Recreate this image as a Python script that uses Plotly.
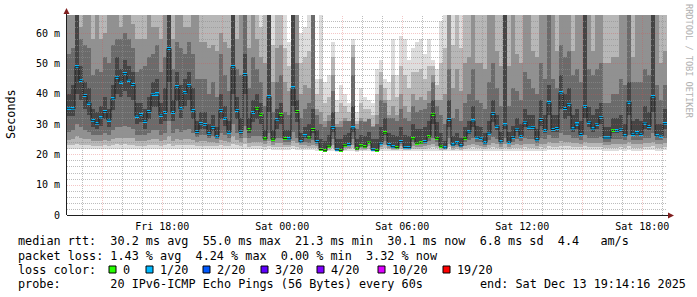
import plotly.graph_objects as go
import pandas as pd

# ---------------- data ----------------
end_time = "2025-12-13 19:14:16"
span_hours = 30
step_minutes = 12

median_ms = [
    35.2, 35.0, 48.9, 44.4, 39.4, 36.9, 31.1, 30.1, 32.0, 34.1,
    31.3, 38.3, 45.4, 43.8, 46.6, 44.5, 43.0, 32.6, 33.1, 30.9,
    34.1, 39.8, 39.9, 32.9, 33.8, 54.9, 33.8, 42.3, 35.0, 40.3,
    42.6, 34.4, 27.5, 30.1, 29.8, 26.8, 28.9, 25.8, 34.5, 31.9,
    27.3, 48.9, 34.5, 27.6, 46.3, 28.1, 33.8, 35.2, 33.2, 25.1,
    39.0, 25.0, 31.4, 33.1, 25.2, 25.1, 41.9, 34.1, 24.1, 26.1,
    25.4, 28.2, 24.2, 21.6, 21.2, 22.7, 28.9, 21.5, 21.3, 23.0,
    23.2, 28.7, 21.8, 22.8, 22.5, 24.0, 21.5, 21.3, 23.7, 27.1,
    23.2, 22.5, 22.2, 24.2, 22.3, 22.2, 25.1, 23.7, 23.8, 24.2,
    25.8, 33.2, 25.3, 22.7, 22.1, 31.5, 23.1, 23.8, 22.8, 25.3,
    27.4, 31.0, 25.7, 25.3, 23.8, 27.0, 33.5, 29.3, 24.1, 29.7,
    24.0, 25.6, 28.3, 25.9, 30.6, 29.0, 28.9, 24.8, 31.5, 27.8,
    37.0, 28.2, 28.5, 40.3, 35.1, 36.5, 28.4, 30.0, 26.5, 35.8,
    30.6, 28.4, 29.9, 32.2, 25.4, 25.4, 27.9, 27.8, 28.3, 26.1,
    37.2, 26.6, 27.1, 26.6, 30.3, 29.2, 39.0, 26.1, 26.0, 30.1,
]

loss_of_20 = [
    1, 1, 1, 1, 1, 1, 1, 1, 1, 1,
    1, 1, 1, 1, 1, 1, 1, 1, 1, 1,
    1, 1, 1, 1, 1, 1, 1, 1, 1, 1,
    1, 1, 1, 1, 1, 1, 1, 1, 1, 1,
    1, 1, 1, 1, 1, 0, 1, 0, 0, 0,
    1, 0, 1, 0, 0, 1, 1, 0, 1, 1,
    0, 0, 1, 0, 0, 0, 1, 1, 0, 0,
    1, 1, 0, 0, 0, 0, 1, 0, 1, 0,
    1, 1, 0, 1, 1, 1, 0, 0, 0, 1,
    0, 0, 0, 0, 1, 1, 1, 1, 1, 0,
    1, 1, 1, 1, 1, 1, 1, 1, 1, 1,
    1, 1, 1, 1, 1, 1, 1, 1, 1, 1,
    1, 1, 1, 1, 1, 1, 1, 1, 1, 1,
    1, 1, 1, 1, 1, 1, 0, 1, 1, 1,
    1, 1, 1, 1, 1, 1, 1, 1, 1, 1,
]

# sorted ping values (ms) at selected ranks out of 20, per column
ping01 = [
    21.8, 21.8, 21.8, 21.8, 21.8, 21.8, 21.8, 21.8, 21.8, 21.8,
    21.8, 21.8, 21.8, 21.8, 21.8, 21.8, 21.8, 21.8, 21.8, 21.8,
    21.8, 21.8, 21.8, 21.8, 21.8, 21.8, 21.8, 21.8, 21.8, 21.8,
    21.8, 21.8, 21.8, 21.8, 21.8, 21.8, 21.8, 21.8, 21.8, 21.8,
    21.8, 21.8, 21.8, 21.8, 21.8, 21.6, 21.6, 21.6, 21.6, 21.5,
    21.6, 21.5, 21.5, 21.5, 21.5, 21.5, 21.6, 21.5, 21.4, 21.4,
    21.3, 21.3, 21.2, 21.0, 20.9, 21.0, 21.2, 20.9, 20.9, 21.0,
    21.0, 21.2, 20.9, 21.0, 21.0, 21.0, 20.9, 20.9, 21.0, 21.2,
    21.0, 21.0, 21.0, 21.0, 21.0, 21.0, 21.0, 21.0, 21.0, 21.0,
    21.1, 21.2, 21.1, 21.0, 21.0, 21.2, 21.0, 21.0, 21.0, 21.0,
    21.1, 21.2, 21.1, 21.1, 21.0, 21.1, 21.2, 21.1, 21.0, 21.1,
    21.0, 21.1, 21.1, 21.1, 21.2, 21.1, 21.1, 21.0, 21.2, 21.1,
    21.4, 21.3, 21.3, 21.4, 21.4, 21.4, 21.3, 21.3, 21.3, 21.4,
    21.3, 21.3, 21.3, 21.3, 21.2, 21.2, 21.2, 21.2, 21.3, 21.2,
    21.4, 21.2, 21.2, 21.2, 21.3, 21.3, 21.4, 21.2, 21.2, 21.3,
]
ping03 = [
    23.0, 23.2, 23.5, 23.2, 23.0, 23.0, 22.8, 22.8, 22.8, 23.0,
    22.8, 23.0, 23.5, 23.2, 23.5, 23.2, 23.2, 22.8, 22.8, 22.8,
    23.0, 23.0, 23.0, 22.8, 23.0, 23.5, 22.8, 23.2, 23.0, 23.0,
    23.2, 23.0, 22.8, 22.8, 22.8, 22.6, 22.8, 22.6, 23.0, 22.8,
    22.6, 23.5, 23.0, 22.6, 23.5, 22.5, 22.6, 22.6, 22.6, 22.3,
    22.8, 22.3, 22.5, 22.5, 22.3, 22.3, 22.8, 22.5, 22.2, 22.2,
    22.0, 22.2, 22.0, 21.2, 21.0, 21.5, 22.2, 21.1, 21.0, 21.5,
    21.6, 22.2, 21.2, 21.5, 21.4, 21.8, 21.1, 21.0, 21.8, 22.0,
    21.6, 21.4, 21.3, 21.8, 21.4, 21.3, 21.9, 21.7, 21.7, 21.8,
    22.0, 22.3, 22.0, 21.5, 21.3, 22.3, 21.5, 21.7, 21.5, 21.9,
    22.1, 22.3, 22.0, 22.0, 21.7, 22.1, 22.3, 22.2, 21.8, 22.2,
    21.8, 22.0, 22.1, 22.0, 22.3, 22.2, 22.2, 21.9, 22.3, 22.1,
    22.6, 22.4, 22.4, 22.7, 22.6, 22.6, 22.4, 22.4, 22.3, 22.6,
    22.4, 22.4, 22.4, 22.5, 22.1, 22.1, 22.2, 22.2, 22.3, 22.2,
    22.6, 22.2, 22.2, 22.2, 22.4, 22.4, 22.6, 22.2, 22.2, 22.4,
]
ping05 = [
    24.8, 25.0, 26.0, 25.5, 25.0, 25.0, 24.5, 24.5, 24.5, 24.8,
    24.5, 25.0, 25.5, 25.5, 25.5, 25.5, 25.5, 24.5, 24.5, 24.5,
    24.8, 25.0, 25.0, 24.5, 24.8, 26.0, 24.5, 25.2, 24.8, 25.0,
    25.2, 24.8, 24.2, 24.5, 24.5, 24.0, 24.2, 23.8, 24.8, 24.5,
    24.0, 26.0, 24.8, 24.0, 25.5, 23.8, 24.0, 24.0, 24.0, 23.3,
    24.5, 23.2, 23.8, 23.8, 23.2, 23.2, 24.5, 23.8, 23.0, 23.0,
    22.8, 23.2, 22.8, 21.4, 21.1, 22.0, 23.2, 21.3, 21.15, 22.0,
    22.2, 23.2, 21.5, 22.0, 21.9, 22.6, 21.3, 21.15, 22.5, 23.0,
    22.2, 21.9, 21.7, 22.6, 21.8, 21.7, 22.8, 22.5, 22.5, 22.6,
    23.0, 23.5, 22.9, 22.0, 21.7, 23.5, 22.1, 22.4, 22.0, 22.8,
    23.2, 23.5, 23.0, 22.9, 22.4, 23.2, 23.6, 23.4, 22.5, 23.4,
    22.5, 23.0, 23.3, 23.0, 23.5, 23.4, 23.4, 22.8, 23.5, 23.3,
    24.0, 23.6, 23.6, 24.3, 24.0, 24.0, 23.6, 23.7, 23.4, 24.0,
    23.7, 23.6, 23.7, 23.8, 23.1, 23.1, 23.4, 23.4, 23.5, 23.3,
    24.1, 23.3, 23.4, 23.3, 23.7, 23.6, 24.2, 23.3, 23.3, 23.7,
]
ping07 = [
    27.5, 28.0, 30.0, 29.0, 28.0, 27.5, 26.5, 26.5, 26.5, 27.0,
    26.5, 28.0, 29.0, 29.0, 29.5, 29.0, 28.5, 26.5, 26.5, 26.5,
    27.0, 28.0, 28.0, 26.5, 27.0, 31.0, 27.0, 28.5, 27.5, 28.0,
    28.5, 27.0, 25.8, 26.5, 26.5, 25.5, 26.0, 25.0, 27.0, 26.5,
    25.5, 30.0, 27.0, 25.5, 29.5, 25.5, 26.0, 26.0, 26.0, 24.3,
    27.0, 24.2, 25.5, 25.5, 24.2, 24.2, 27.5, 25.5, 23.6, 24.0,
    23.8, 24.8, 23.5, 21.5, 21.15, 22.4, 25.0, 21.4, 21.25, 22.6,
    22.8, 25.0, 21.7, 22.5, 22.3, 23.4, 21.4, 21.25, 23.2, 24.5,
    22.8, 22.3, 22.0, 23.5, 22.1, 22.0, 24.0, 23.2, 23.3, 23.5,
    24.3, 25.5, 24.0, 22.4, 21.9, 25.5, 22.7, 23.2, 22.5, 24.0,
    24.8, 25.5, 24.2, 24.0, 23.2, 24.8, 25.8, 25.2, 23.4, 25.3,
    23.4, 24.2, 25.0, 24.3, 25.5, 25.2, 25.2, 23.8, 25.5, 25.0,
    26.5, 25.3, 25.3, 27.0, 26.3, 26.5, 25.3, 25.5, 24.7, 26.5,
    25.5, 25.3, 25.5, 25.8, 24.2, 24.2, 25.0, 25.0, 25.2, 24.6,
    26.5, 24.7, 24.8, 24.7, 25.5, 25.4, 27.0, 24.6, 24.6, 25.5,
]
ping09 = [
    32.5, 32.5, 40.0, 38.0, 35.0, 33.0, 29.0, 28.5, 29.5, 31.5,
    29.0, 34.5, 40.0, 39.0, 41.0, 39.0, 38.0, 30.0, 30.5, 28.5,
    31.5, 35.5, 35.5, 30.0, 31.0, 44.0, 31.0, 37.5, 32.0, 36.0,
    38.0, 31.5, 26.8, 28.5, 28.5, 26.2, 27.8, 25.4, 31.5, 29.5,
    26.6, 40.0, 31.5, 26.8, 40.0, 27.2, 30.5, 31.5, 30.0, 24.8,
    34.0, 24.7, 28.5, 30.0, 24.9, 24.8, 36.0, 30.5, 23.9, 25.5,
    25.0, 27.0, 23.9, 21.55, 21.18, 22.6, 27.5, 21.45, 21.28, 22.9,
    23.1, 27.5, 21.75, 22.7, 22.4, 23.8, 21.45, 21.28, 23.6, 26.5,
    23.1, 22.4, 22.1, 24.0, 22.2, 22.1, 24.8, 23.6, 23.7, 24.0,
    25.5, 30.0, 25.0, 22.6, 22.0, 29.0, 23.0, 23.6, 22.7, 25.0,
    26.8, 29.0, 25.4, 25.0, 23.6, 26.5, 30.5, 28.0, 23.9, 28.5,
    23.8, 25.3, 27.5, 25.6, 29.0, 28.0, 28.0, 24.5, 29.5, 27.0,
    33.0, 27.3, 27.5, 35.0, 31.5, 32.5, 27.5, 28.5, 26.0, 32.0,
    29.0, 27.5, 28.5, 30.0, 25.1, 25.1, 27.0, 27.0, 27.5, 25.7,
    33.0, 26.0, 26.5, 26.0, 28.5, 28.0, 34.0, 25.7, 25.6, 28.5,
]
ping12 = [
    40, 43, 75, 49, 44, 42, 35, 34, 36, 39,
    35, 43, 52, 48, 51, 49, 47, 37, 37, 35,
    39, 44, 45, 37, 42, 75, 38, 47, 43, 45,
    47, 42, 31, 34, 34, 30, 33, 29, 40, 36,
    31, 75, 39, 32, 53, 32, 38, 40, 37, 28,
    75, 28, 35, 37, 28, 28, 75, 38, 27, 29,
    30, 35, 28, 25, 24.5, 26.5, 34, 25, 25, 26.5,
    27, 36, 25, 26.5, 26, 27.5, 25, 25, 29, 32,
    27, 26.5, 26, 29, 26.5, 26, 30, 28.5, 28.5, 29,
    31, 38, 30.5, 27, 24.5, 38, 26, 27, 25.5, 29,
    31, 36, 29.5, 29, 27, 31, 38, 33, 27.5, 75,
    27.5, 29.5, 32, 30, 35, 33, 33, 28.5, 38, 33,
    43, 33, 33, 46, 40, 42, 33, 35, 31, 75,
    35.5, 33, 35, 37, 29, 29, 32, 32, 33, 30,
    44, 31, 31.5, 31, 36, 34, 75, 30, 30, 35,
]
ping14 = [
    53, 55, 85, 58, 56, 55, 46, 48, 47, 52,
    50, 56, 58, 58, 60, 58, 55, 47, 48, 49,
    52, 53, 56, 47, 52, 85, 48, 57, 55, 53,
    57, 53, 45, 45, 45, 40, 44, 39, 53, 46,
    41, 85, 48, 46, 75, 42, 52, 48, 44, 36,
    85, 34, 44, 46, 34, 33, 85, 50, 32, 35,
    37, 75, 33, 30, 29, 31, 41, 29, 29, 31,
    31, 46, 28.5, 31, 30.5, 31.5, 29, 30, 38, 37,
    32, 32, 31, 35, 32, 31, 36, 34, 34.5, 35,
    37, 44, 36, 33, 30, 48, 32, 35, 31, 37,
    40, 48, 38, 37, 35, 44, 50, 42, 36, 85,
    36, 42, 41, 38, 47, 45, 42, 40, 50, 45,
    75, 45, 42, 56, 52, 54, 46, 48, 44, 85,
    48, 46, 48, 50, 37, 37, 40, 40, 45, 43,
    75, 44, 44, 44, 48, 46, 85, 43, 38, 43,
]
ping16 = [
    72, 72, 95, 62, 72, 72, 58, 72, 58, 60,
    72, 72, 72, 62, 72, 72, 63, 58, 58, 58,
    72, 62, 62, 58, 72, 95, 58, 72, 72, 62,
    62, 72, 72, 57, 57, 55, 56, 54, 60, 57,
    55, 95, 58, 72, 85, 55, 72, 58, 52, 50,
    95, 44, 55, 56, 44, 41, 95, 72, 40, 43,
    42, 85, 35, 34, 31, 33, 46, 30, 31, 32,
    31, 52, 30, 32, 31, 31.5, 29.5, 33, 43, 38,
    33, 36, 33, 40, 36, 34, 40, 38, 39, 38,
    41, 46, 38, 38, 40, 72, 42, 48, 41, 50,
    52, 72, 50, 50, 48, 72, 72, 54, 49, 95,
    49, 72, 53, 50, 72, 72, 54, 52, 72, 72,
    85, 72, 54, 72, 72, 72, 54, 72, 72, 95,
    72, 54, 72, 72, 50, 50, 52, 52, 72, 72,
    85, 52, 72, 72, 72, 72, 95, 72, 50, 54,
]
ping18 = [
    85, 85, 100, 75, 85, 85, 75, 85, 75, 75,
    85, 85, 85, 75, 85, 85, 75, 75, 75, 75,
    85, 75, 75, 75, 85, 100, 75, 85, 85, 75,
    75, 85, 85, 75, 75, 75, 75, 75, 75, 75,
    75, 100, 75, 85, 95, 75, 85, 75, 62, 72,
    100, 56, 72, 72, 55, 49, 100, 85, 50, 52,
    54, 95, 40, 45, 37, 39, 52, 34, 37, 36,
    34, 56, 31, 37, 35, 35, 33, 40, 47, 42,
    38, 46, 39, 49, 46, 42, 47, 47, 48, 45,
    49, 49, 43, 50, 55, 85, 56, 72, 55, 72,
    72, 85, 72, 72, 72, 85, 85, 72, 72, 100,
    72, 85, 72, 72, 85, 85, 72, 72, 85, 85,
    95, 85, 72, 85, 85, 85, 72, 85, 85, 100,
    85, 72, 85, 85, 72, 72, 72, 72, 85, 85,
    95, 72, 85, 85, 85, 85, 100, 85, 72, 72,
]
ping20 = [
    100, 100, 110, 95, 100, 100, 95, 100, 95, 95,
    100, 100, 100, 95, 100, 100, 95, 95, 95, 95,
    100, 95, 95, 95, 100, 110, 95, 100, 100, 95,
    95, 100, 100, 95, 95, 95, 95, 95, 95, 95,
    95, 110, 95, 100, 105, 95, 100, 95, 80, 90,
    110, 80, 90, 90, 80, 57, 110, 100, 60, 62,
    75, 105, 45, 75, 44, 46, 57, 38, 43, 40,
    37, 58, 34, 42, 39, 38, 37, 48, 51, 45,
    44, 58, 46, 59, 58, 51, 55, 57, 58, 53,
    58, 51, 48, 64, 80, 100, 80, 90, 80, 90,
    90, 100, 90, 90, 90, 100, 100, 90, 90, 110,
    90, 100, 90, 90, 100, 100, 90, 90, 100, 100,
    105, 100, 90, 100, 100, 100, 90, 100, 100, 110,
    100, 90, 100, 100, 90, 90, 90, 90, 100, 100,
    105, 90, 100, 100, 100, 100, 110, 100, 90, 90,
]

loss_legend = ["0", "1/20", "2/20", "3/20", "4/20", "10/20", "19/20"]
loss_colors = ["#26ff00", "#00b8ff", "#0059ff", "#5e00ff", "#7e00ff", "#dd00ff", "#ff0000"]
loss_levels = [0, 1, 2, 3, 4, 10, 19]

x_tick_times = ["2025-12-12 18:00", "2025-12-13 00:00", "2025-12-13 06:00",
                "2025-12-13 12:00", "2025-12-13 18:00"]
x_tick_text = ["Fri 18:00", "Sat 00:00", "Sat 06:00", "Sat 12:00", "Sat 18:00"]
y_tick_vals = [0, 10, 20, 30, 40, 50, 60]
y_tick_text = ["0", "10 m", "20 m", "30 m", "40 m", "50 m", "60 m"]

legend_lines = [
    "median rtt:  30.2 ms avg  55.0 ms max  21.3 ms min  30.1 ms now  6.8 ms sd  4.4   am/s",
    "packet loss: 1.43 % avg  4.24 % max  0.00 % min  3.32 % now",
    "loss color:",
    "probe:       20 IPv6-ICMP Echo Pings (56 Bytes) every 60s",
]
end_text = "end: Sat Dec 13 19:14:16 2025"

# ---------------- geometry ----------------
W, H = 697, 297
L, R, T, B = 67, 667, 15, 215
Y_MAX = 65.94
MONO = "DejaVu Sans Mono"


def px(x):
    return (x - L) / (R - L)


def py(y):
    return (B - y) / (B - T)


end = pd.Timestamp(end_time)
start = end - pd.Timedelta(hours=span_hours)
n = len(median_ms)
step = pd.Timedelta(minutes=step_minutes)
col_start = [start + i * step for i in range(n)]
col_center = [t + step / 2 for t in col_start]
bar_w = step / pd.Timedelta(milliseconds=1)

fig = go.Figure()

# smoke bands (outer to inner), smokeping grey levels
ranks = {1: ping01, 3: ping03, 5: ping05, 7: ping07, 9: ping09,
         12: ping12, 14: ping14, 16: ping16, 18: ping18, 20: ping20}
for k in [1, 3, 5, 7, 9]:
    lo = ranks[k]
    hi = ranks[21 - k]
    g = int(190 / 10 * (10 - k)) + 50
    fig.add_trace(go.Bar(
        x=col_center, base=lo, y=[h - l for h, l in zip(hi, lo)], width=bar_w,
        marker=dict(color=f"rgb({g},{g},{g})", line=dict(width=0)),
        hoverinfo="skip", showlegend=False))

# median step line
fig.add_trace(go.Scatter(
    x=col_start + [end], y=median_ms + [median_ms[-1]], mode="lines",
    line=dict(color="#202020", width=1, shape="hv"),
    hoverinfo="skip", showlegend=False))

# loss-coloured median markers
mark_h = 1.0
for lvl, colr in zip(loss_levels, loss_colors):
    idx = [i for i, v in enumerate(loss_of_20) if v == lvl]
    if not idx:
        continue
    fig.add_trace(go.Bar(
        x=[col_center[i] for i in idx],
        base=[median_ms[i] - mark_h / 2 for i in idx],
        y=[mark_h] * len(idx), width=bar_w,
        marker=dict(color=colr, line=dict(width=0)),
        hoverinfo="skip", showlegend=False))

shapes = []
# grid (drawn above the smoke, like rrdtool), snapped to pixel centres
minor_col = "rgba(143,143,143,0.6)"
major_col = "rgba(222,79,79,0.32)"
px_per_ms = (B - T) / Y_MAX
for v in range(2, 66, 2):
    major = v % 10 == 0
    yy = round(B - v * px_per_ms) + 0.5
    shapes.append(dict(type="line", xref="paper", yref="paper", x0=0, x1=1, y0=py(yy), y1=py(yy),
                       line=dict(color=major_col if major else minor_col, width=1, dash="1px,1px"),
                       layer="above"))
px_per_hour = (R - L) / span_hours
for t in pd.date_range(start.ceil("h"), end, freq="h"):
    major = t.hour % 3 == 0
    xx = round(L + (t - start) / pd.Timedelta(hours=1) * px_per_hour) + 0.5
    shapes.append(dict(type="line", xref="paper", yref="paper", x0=px(xx), x1=px(xx), y0=0, y1=1,
                       line=dict(color=major_col if major else minor_col, width=1, dash="1px,1px"),
                       layer="above"))
# axes
shapes.append(dict(type="line", xref="paper", yref="paper", x0=px(L), x1=px(671), y0=py(B + 0.5), y1=py(B + 0.5),
                   line=dict(color="#1f1f1f", width=1), layer="above"))
shapes.append(dict(type="line", xref="paper", yref="paper", x0=px(L - 0.5), x1=px(L - 0.5), y0=py(B), y1=py(11),
                   line=dict(color="#1f1f1f", width=1), layer="above"))
# arrows
arrow = "#801f1f"
shapes.append(dict(type="path", xref="paper", yref="paper", layer="above",
                   path=f"M {px(674)},{py(B + 0.5)} L {px(668)},{py(B - 2.5)} L {px(668)},{py(B + 3.5)} Z",
                   fillcolor=arrow, line=dict(width=0)))
shapes.append(dict(type="path", xref="paper", yref="paper", layer="above",
                   path=f"M {px(L - 0.5)},{py(8)} L {px(L - 3.5)},{py(14)} L {px(L + 2.5)},{py(14)} Z",
                   fillcolor=arrow, line=dict(width=0)))

annotations = []
leg_y = [241, 255.5, 269.5, 283.5]
for txt, yy in zip(legend_lines, leg_y):
    annotations.append(dict(text=txt.replace(" ", "&nbsp;"), x=px(16), y=py(yy), xref="paper", yref="paper",
                            xanchor="left", yanchor="middle", showarrow=False,
                            font=dict(family=MONO, size=11.8, color="black")))
annotations.append(dict(text=end_text.replace(" ", "&nbsp;"), x=px(478), y=py(leg_y[3]), xref="paper",
                        yref="paper", xanchor="left", yanchor="middle", showarrow=False,
                        font=dict(family=MONO, size=11.8, color="black")))
box_x = [109, 146, 203, 261, 317, 378, 443]
for bx, lab, colr in zip(box_x, loss_legend, loss_colors):
    shapes.append(dict(type="rect", xref="paper", yref="paper", x0=px(bx), x1=px(bx + 7),
                       y0=py(leg_y[2] + 3.5), y1=py(leg_y[2] - 3.5), fillcolor=colr,
                       line=dict(color="black", width=1), layer="above"))
    annotations.append(dict(text=lab, x=px(bx + 12), y=py(leg_y[2]), xref="paper", yref="paper",
                            xanchor="left", yanchor="middle", showarrow=False,
                            font=dict(family=MONO, size=11.8, color="black")))
annotations.append(dict(text="Seconds", x=px(11), y=py(114), xref="paper", yref="paper",
                        textangle=-90, showarrow=False, xanchor="center", yanchor="middle",
                        font=dict(family=MONO, size=11.8, color="black")))
annotations.append(dict(text="RRDTOOL&nbsp;/&nbsp;TOBI&nbsp;OETIKER", x=px(689), y=py(61), xref="paper",
                        yref="paper", textangle=90, showarrow=False, xanchor="center", yanchor="middle",
                        font=dict(family=MONO, size=8.6, color="#b0b0b0")))

fig.update_layout(
    width=W, height=H,
    margin=dict(l=L, r=W - R, t=T, b=H - B, pad=0),
    paper_bgcolor="white", plot_bgcolor="white",
    barmode="overlay", bargap=0, showlegend=False,
    shapes=shapes, annotations=annotations,
    xaxis=dict(type="date", range=[start, end], showgrid=False, zeroline=False, showline=False,
               tickmode="array", tickvals=x_tick_times, ticktext=x_tick_text, ticks="",
               tickfont=dict(family=MONO, size=10, color="black"), ticklabelstandoff=4),
    yaxis=dict(range=[0, Y_MAX], showgrid=False, zeroline=False, showline=False,
               tickmode="array", tickvals=y_tick_vals, ticktext=y_tick_text, ticks="",
               tickfont=dict(family=MONO, size=10, color="black"), ticklabelstandoff=6),
)

fig.write_html("out.html")
